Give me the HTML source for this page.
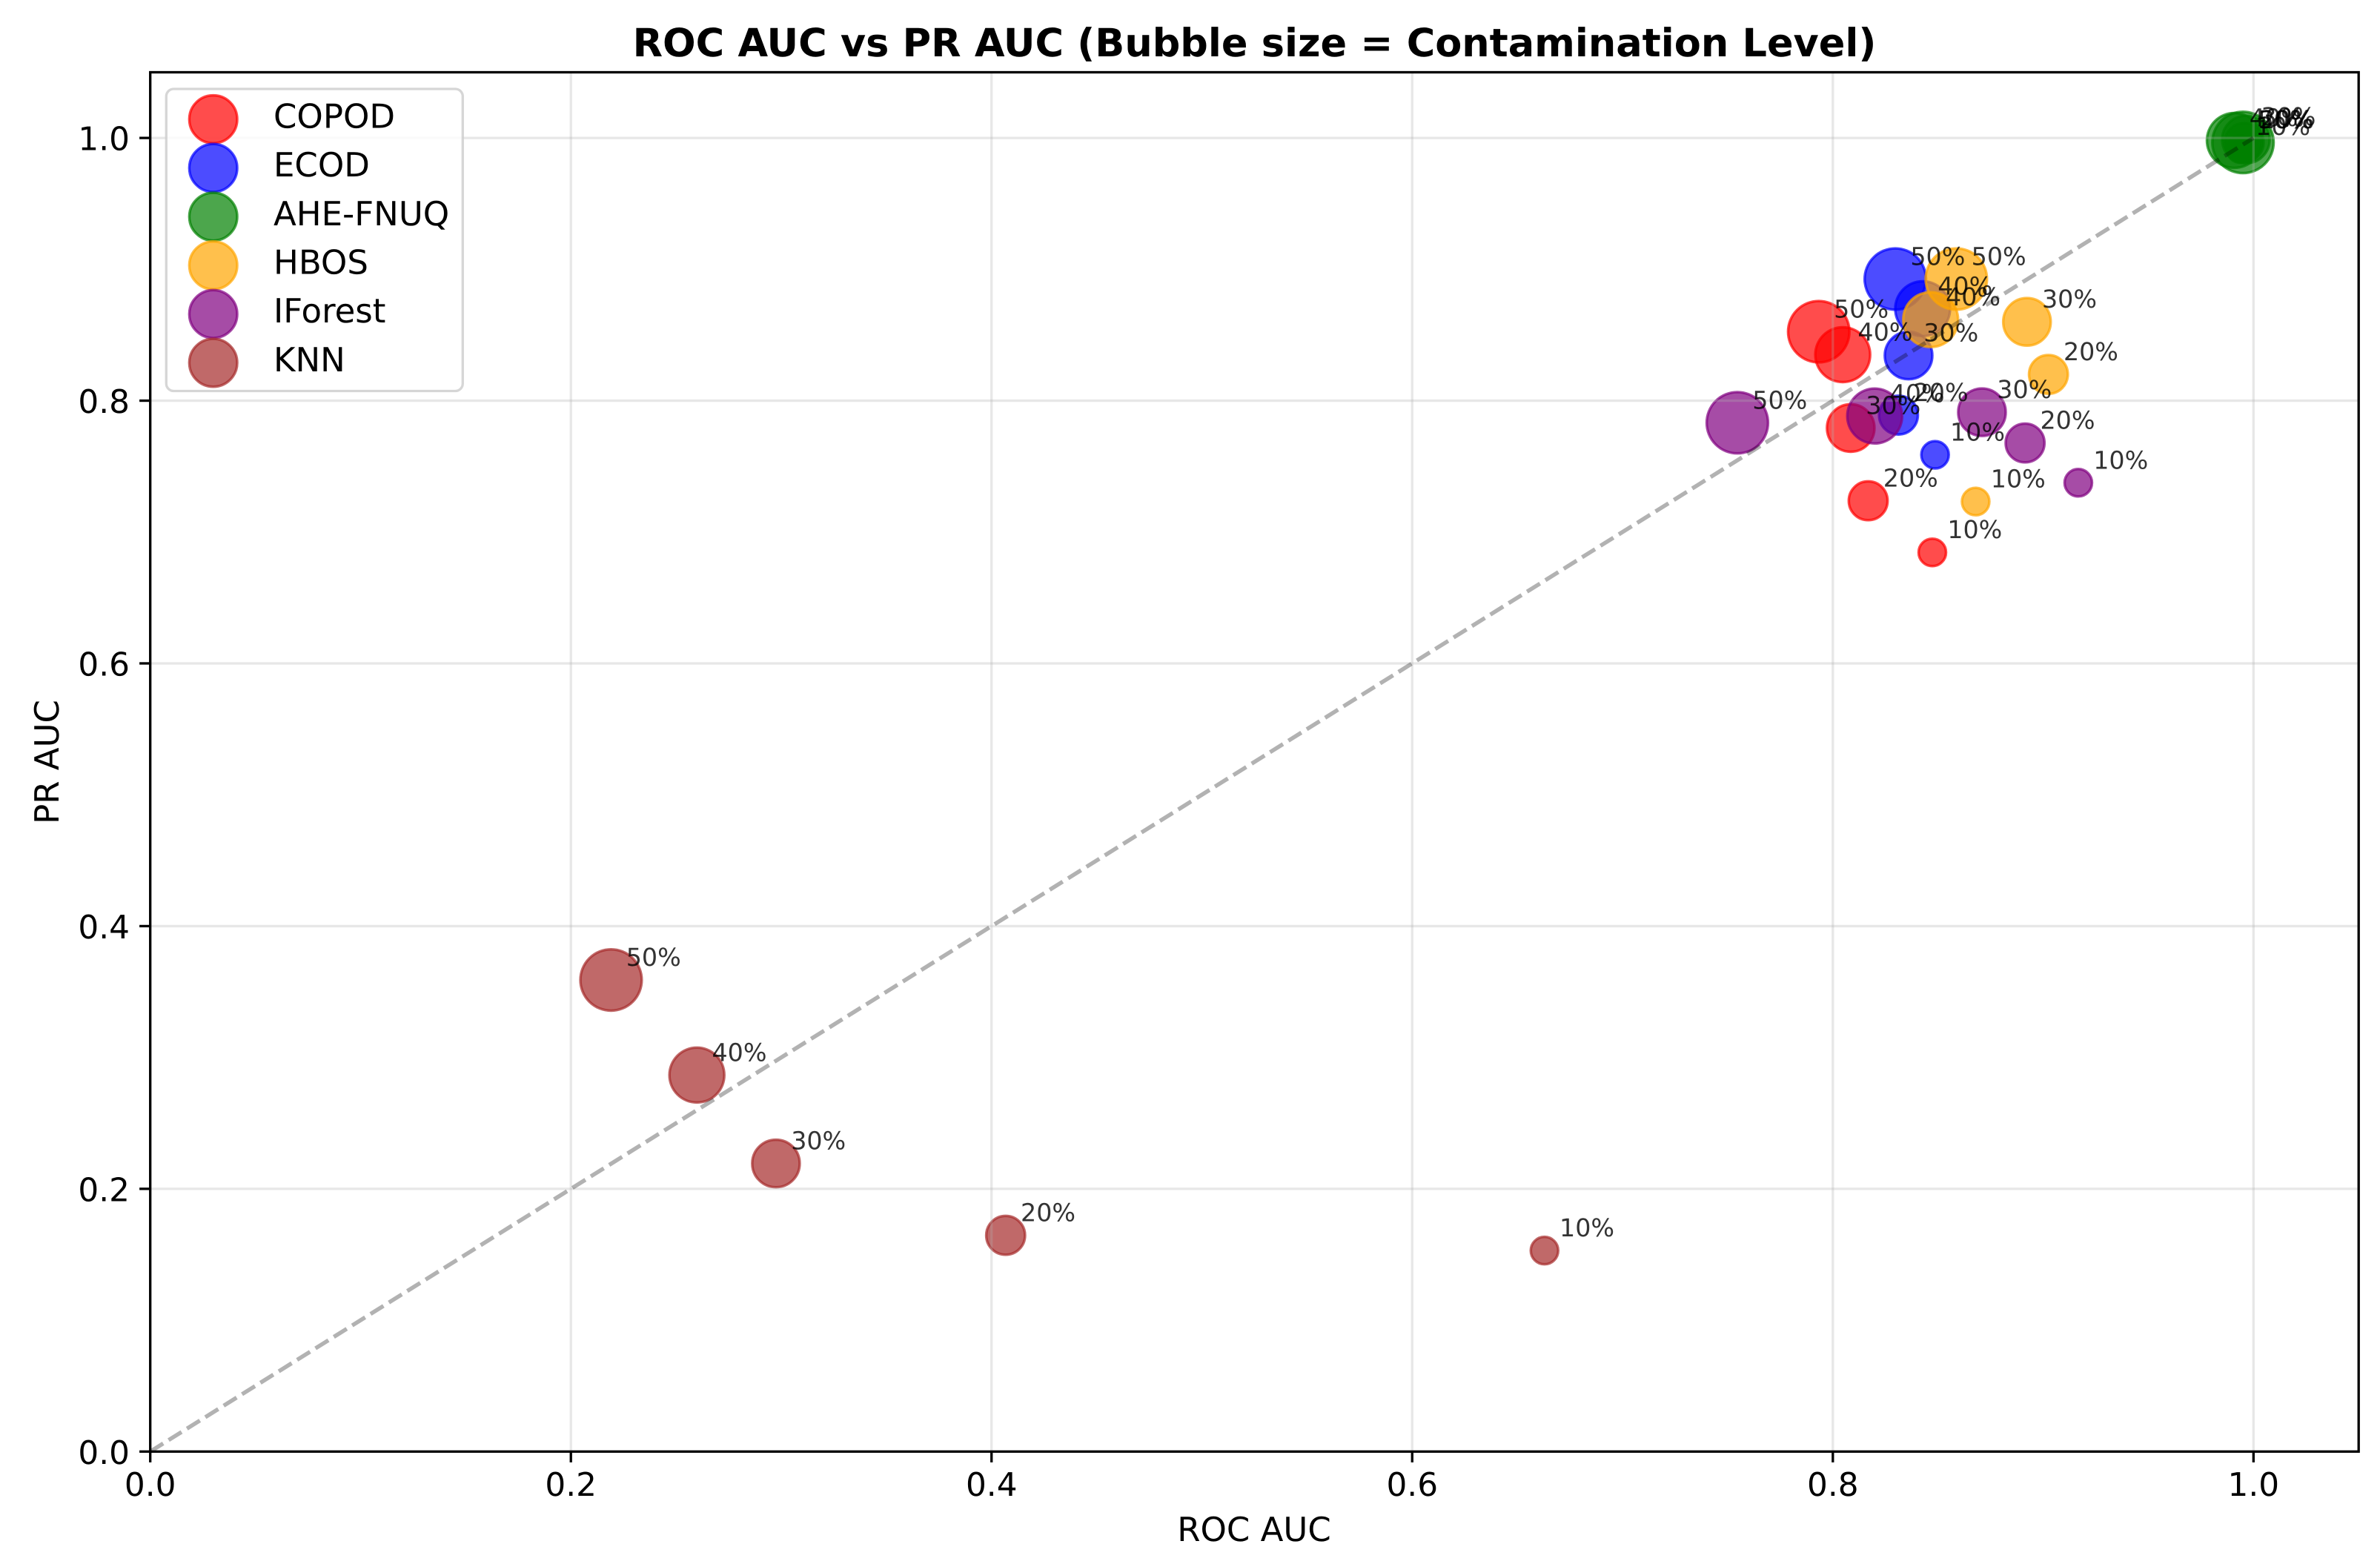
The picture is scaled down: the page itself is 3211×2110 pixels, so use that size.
<!DOCTYPE html>
<html lang="en">
<head>
<meta charset="utf-8">
<title>ROC AUC vs PR AUC</title>
<style>
  html, body { margin: 0; padding: 0; background: #fff; }
  svg { display: block; font-family: "DejaVu Sans", "Liberation Sans", sans-serif; text-rendering: geometricPrecision; }
</style>
</head>
<body>
<svg id="chart" xmlns="http://www.w3.org/2000/svg" width="3211" height="2110" viewBox="0 0 3211 2110">
  <rect x="0" y="0" width="3211" height="2110" fill="#ffffff"/>
  <g id="bubbles"></g>
  <g id="grid"></g>
  <line id="diagonal" stroke="#000000" stroke-opacity="0.3" stroke-width="5.5" stroke-dasharray="20.6 8.6"/>
  <g id="annotations"></g>
  <g id="ticks"></g>
  <rect id="frame" fill="none" stroke="#000000" stroke-width="3.3"/>
  <text x="1692.5" y="76" text-anchor="middle" font-size="52.5" font-weight="bold" fill="#000000">ROC AUC vs PR AUC (Bubble size = Contamination Level)</text>
  <text x="1692" y="2079" text-anchor="middle" font-size="45" fill="#000000">ROC AUC</text>
  <text transform="translate(79 1028) rotate(-90)" text-anchor="middle" font-size="45" fill="#000000">PR AUC</text>
  <g id="legend"></g>
</svg>
<script>
const methods = ['COPOD', 'ECOD', 'AHE-FNUQ', 'HBOS', 'IForest', 'KNN'];
const methodColors = ['#ff0000', '#0000ff', '#008000', '#ffa500', '#800080', '#a52a2a'];
const contaminationLevels = [10, 20, 30, 40, 50];
const rocCopod = [0.8473, 0.8168, 0.8085, 0.8047, 0.7933];
const prCopod = [0.6845, 0.7238, 0.7792, 0.8350, 0.8525];
const rocEcod = [0.8486, 0.8312, 0.8360, 0.8427, 0.8297];
const prEcod = [0.7588, 0.7890, 0.8344, 0.8700, 0.8926];
const rocAhe = [0.9938, 0.9956, 0.9964, 0.9909, 0.9950];
const prAhe = [0.9915, 0.9966, 0.9988, 0.9981, 0.9966];
const rocHbos = [0.8679, 0.9025, 0.8923, 0.8465, 0.8587];
const prHbos = [0.7232, 0.8200, 0.8600, 0.8617, 0.8926];
const rocIforest = [0.9167, 0.8914, 0.8709, 0.8199, 0.7546];
const prIforest = [0.7375, 0.7678, 0.7912, 0.7883, 0.7832];
const rocKnn = [0.6629, 0.4067, 0.2975, 0.2599, 0.2191];
const prKnn = [0.1530, 0.1646, 0.2193, 0.2866, 0.3590];
const xTicks = [0.0, 0.2, 0.4, 0.6, 0.8, 1.0];
const yTicks = [0.0, 0.2, 0.4, 0.6, 0.8, 1.0];
const xLimits = [0, 1.05];
const yLimits = [0, 1.05];

const rocSeries = [rocCopod, rocEcod, rocAhe, rocHbos, rocIforest, rocKnn];
const prSeries = [prCopod, prEcod, prAhe, prHbos, prIforest, prKnn];

const plot = { left: 202.7, right: 3182.2, top: 97.5, bottom: 1958.3 };
const NS = 'http://www.w3.org/2000/svg';

function xScale(v) {
  return plot.left + (v - xLimits[0]) / (xLimits[1] - xLimits[0]) * (plot.right - plot.left);
}
function yScale(v) {
  return plot.bottom - (v - yLimits[0]) / (yLimits[1] - yLimits[0]) * (plot.bottom - plot.top);
}
function bubbleRadius(level) {
  return 5.85 * Math.sqrt(level);
}
function make(tag, attrs, parent) {
  const node = document.createElementNS(NS, tag);
  Object.keys(attrs).forEach(function (k) { node.setAttribute(k, attrs[k]); });
  parent.appendChild(node);
  return node;
}

const bubbles = document.getElementById('bubbles');
const annotations = document.getElementById('annotations');
methods.forEach(function (method, m) {
  const slug = method.toLowerCase();
  contaminationLevels.forEach(function (level, i) {
    const cx = xScale(rocSeries[m][i]);
    const cy = yScale(prSeries[m][i]);
    const dot = make('circle', {
      cx: cx, cy: cy, r: bubbleRadius(level),
      fill: methodColors[m], 'fill-opacity': 0.7,
      stroke: methodColors[m], 'stroke-opacity': 0.7, 'stroke-width': 3.5
    }, bubbles);
    
    
    const label = make('text', {
      x: cx + 20.3, y: cy - 19, 'font-size': 33.3,
      fill: '#000000', 'fill-opacity': 0.8
    }, annotations);
    label.textContent = level + '%';
    
    
  });
});

const grid = document.getElementById('grid');
const ticks = document.getElementById('ticks');
xTicks.forEach(function (v) {
  const x = xScale(v);
  const gridLine = make('line', { x1: x, x2: x, y1: plot.top, y2: plot.bottom, stroke: '#b0b0b0', 'stroke-opacity': 0.3, 'stroke-width': 3.3 }, grid);
  
  
  const tick = make('line', { x1: x, x2: x, y1: plot.bottom, y2: plot.bottom + 14.6, stroke: '#000000', 'stroke-width': 3.3 }, ticks);
  
  
  const text = make('text', { x: x, y: 2018, 'text-anchor': 'middle', 'font-size': 43.75, fill: '#000000' }, ticks);
  text.textContent = v.toFixed(1);
  
  
});
yTicks.forEach(function (v) {
  const y = yScale(v);
  const gridLine = make('line', { x1: plot.left, x2: plot.right, y1: y, y2: y, stroke: '#b0b0b0', 'stroke-opacity': 0.3, 'stroke-width': 3.3 }, grid);
  
  
  const tick = make('line', { x1: plot.left - 14.6, x2: plot.left, y1: y, y2: y, stroke: '#000000', 'stroke-width': 3.3 }, ticks);
  
  
  const text = make('text', { x: 175, y: y + 16.5, 'text-anchor': 'end', 'font-size': 43.75, fill: '#000000' }, ticks);
  text.textContent = v.toFixed(1);
  
  
});

const diagonal = document.getElementById('diagonal');
diagonal.setAttribute('x1', xScale(0));
diagonal.setAttribute('y1', yScale(0));
diagonal.setAttribute('x2', xScale(1));
diagonal.setAttribute('y2', yScale(1));

const frame = document.getElementById('frame');
frame.setAttribute('x', plot.left);
frame.setAttribute('y', plot.top);
frame.setAttribute('width', plot.right - plot.left);
frame.setAttribute('height', plot.bottom - plot.top);

const legend = document.getElementById('legend');
const legendBox = make('rect', {
  x: 224.3, y: 120, width: 400, height: 407.5, rx: 10, ry: 10,
  fill: '#ffffff', 'fill-opacity': 0.8, stroke: '#cccccc', 'stroke-opacity': 0.8, 'stroke-width': 3.3
}, legend);


methods.forEach(function (method, m) {
  const rowY = 160.9 + m * 65.7;
  const swatch = make('circle', {
    cx: 287.7, cy: rowY, r: 32.3,
    fill: methodColors[m], 'fill-opacity': 0.7,
    stroke: methodColors[m], 'stroke-opacity': 0.7, 'stroke-width': 3.5
  }, legend);
  
  
  const text = make('text', { x: 369, y: rowY + 11.5, 'font-size': 45, fill: '#000000' }, legend);
  text.textContent = method;
  
  
});
</script>
</body>
</html>
